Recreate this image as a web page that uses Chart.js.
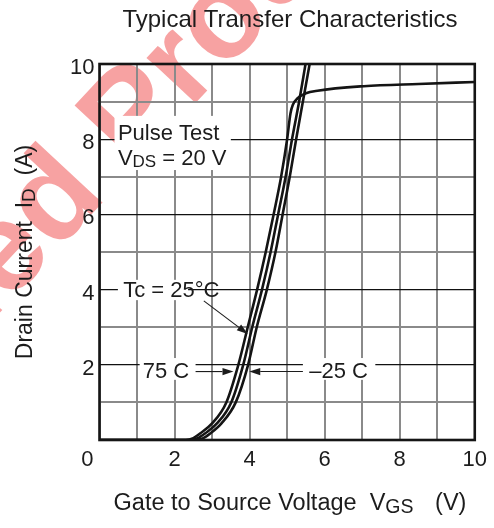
<!DOCTYPE html>
<html><head><meta charset="utf-8">
<script src="https://cdn.jsdelivr.net/npm/chart.js@4/dist/chart.umd.min.js"></script>
<style>html,body{margin:0;padding:0;background:#fff;}canvas{display:block}</style>
</head><body>
<canvas id="c" width="494" height="528"></canvas>
<script>
// ---- data ----
const chartTitle = 'Typical Transfer Characteristics';
const xTickLabels = ['0', '2', '4', '6', '8', '10'];
const yTickLabels = ['2', '4', '6', '8', '10'];
const seriesNames = ['75 C', 'Tc = 25°C', '–25 C'];

const vgs75 = [0, 2.3, 2.5, 2.69, 3.0, 3.38, 3.70, 3.95, 4.20, 4.43, 4.64, 4.84, 5.00, 5.09, 5.15, 5.28, 5.50, 5.81, 7.04, 8.5, 10];
const id75  = [0, 0, 0.05, 0.18, 0.44, 1.0, 2.0, 3.0, 4.0, 5.0, 6.0, 7.0, 8.0, 8.69, 8.91, 9.09, 9.22, 9.29, 9.41, 9.47, 9.52];
const vgs25 = [0, 2.4, 2.6, 2.82, 3.13, 3.51, 3.83, 4.07, 4.33, 4.56, 4.76, 4.96, 5.13, 5.32, 5.49];
const id25  = [0, 0, 0.04, 0.18, 0.44, 1.0, 2.0, 3.0, 4.0, 5.0, 6.0, 7.0, 8.0, 9.0, 10.0];
const vgsM25 = [0, 2.55, 2.75, 2.96, 3.25, 3.63, 3.96, 4.19, 4.46, 4.69, 4.88, 5.07, 5.24, 5.42, 5.60];
const idM25  = [0, 0, 0.04, 0.18, 0.44, 1.0, 2.0, 3.0, 4.0, 5.0, 6.0, 7.0, 8.0, 9.0, 10.0];

const FONT = '"Liberation Sans", Arial, Helvetica, sans-serif';
const INK = '#1c1c1c';
const zip = (xs, ys) => xs.map((x, i) => ({x, y: ys[i]}));

function drawRich(ctx, pieces, x, y) {
  let total = 0;
  pieces.forEach(p => { ctx.font = p.size + 'px ' + FONT; total += ctx.measureText(p.t).width + (p.gap || 0); });
  let cx = x - total / 2;
  ctx.textAlign = 'left'; ctx.textBaseline = 'alphabetic';
  pieces.forEach(p => {
    ctx.font = p.size + 'px ' + FONT;
    ctx.fillText(p.t, cx, y + (p.dy || 0));
    cx += ctx.measureText(p.t).width + (p.gap || 0);
  });
}
function drawRichLeft(ctx, pieces, x, y) {
  let cx = x;
  ctx.textAlign = 'left'; ctx.textBaseline = 'alphabetic';
  pieces.forEach(p => {
    ctx.font = p.size + 'px ' + FONT;
    ctx.fillText(p.t, cx, y + (p.dy || 0));
    cx += ctx.measureText(p.t).width + (p.gap || 0);
  });
}
function arrow(ctx, x0, y0, x1, y1) {
  const a = Math.atan2(y1 - y0, x1 - x0), L = 11, W = 3.6;
  const bx = x1 - L * Math.cos(a), by = y1 - L * Math.sin(a);
  ctx.beginPath(); ctx.moveTo(x0, y0); ctx.lineTo(bx, by);
  ctx.lineWidth = 1.1; ctx.strokeStyle = INK; ctx.stroke();
  ctx.beginPath(); ctx.moveTo(x1, y1);
  ctx.lineTo(bx + W * Math.sin(a), by - W * Math.cos(a));
  ctx.lineTo(bx - W * Math.sin(a), by + W * Math.cos(a));
  ctx.closePath(); ctx.fillStyle = INK; ctx.fill();
}

const decor = {
  id: 'decor',
  beforeDraw(chart) {
    const ctx = chart.ctx;
    ctx.save();
    ctx.fillStyle = '#fff'; ctx.fillRect(0, 0, chart.width, chart.height);
    ctx.translate(8, 304); ctx.rotate(-47 * Math.PI / 180);
    ctx.font = 'bold 126px ' + FONT;
    ctx.fillStyle = 'rgba(240,70,70,0.5)';
    ctx.textBaseline = 'alphabetic'; ctx.textAlign = 'left';
    const pre = ctx.measureText('Discontinu').width;
    ctx.fillText('Discontinued Product', -pre, 0);
    ctx.restore();
  },
  afterDraw(chart) {
    const ctx = chart.ctx, xs = chart.scales.x, ys = chart.scales.y, a = chart.chartArea;
    const px = v => xs.getPixelForValue(v), py = v => ys.getPixelForValue(v);
    ctx.save();
    // white label boxes
    ctx.fillStyle = '#fff';
    const box = (x0, y0, x1, y1) => ctx.fillRect(px(x0), py(y0), px(x1) - px(x0), py(y1) - py(y0));
    box(0.40, 8.62, 3.50, 7.18);
    box(0.49, 4.26, 2.36, 3.72);
    box(1.07, 2.18, 2.56, 1.60);
    box(5.42, 2.18, 7.35, 1.60);
    // texts
    ctx.fillStyle = INK;
    drawRichLeft(ctx, [{t: 'Pulse Test', size: 22}], px(0.49), py(7.98));
    drawRichLeft(ctx, [{t: 'V', size: 22}, {t: 'DS', size: 17, dy: 2}, {t: ' = 20 V', size: 22}], px(0.49), py(7.31));
    drawRichLeft(ctx, [{t: seriesNames[1], size: 22}], px(0.63), py(3.81));
    drawRichLeft(ctx, [{t: seriesNames[0], size: 22}], px(1.15), py(1.64));
    drawRichLeft(ctx, [{t: seriesNames[2], size: 22}], px(5.59), py(1.64));
    // arrows
    arrow(ctx, px(2.78), py(3.70), px(3.95), py(2.82));
    arrow(ctx, px(2.56), py(1.82), px(3.57), py(1.82));
    arrow(ctx, px(5.42), py(1.82), px(3.99), py(1.82));
    // frame
    ctx.lineWidth = 2.6; ctx.strokeStyle = '#151515';
    ctx.strokeRect(a.left, a.top, a.right - a.left, a.bottom - a.top);
    // title
    ctx.fillStyle = INK;
    ctx.font = '24px ' + FONT; ctx.textAlign = 'center'; ctx.textBaseline = 'alphabetic';
    ctx.fillText(chartTitle, 290, 27);
    // x title
    drawRich(ctx, [{t: 'Gate to Source Voltage  V', size: 23.5}, {t: 'GS', size: 19.5, dy: 3, gap: 2}, {t: '   (V)', size: 23.5}], 290, 510);
    // y title
    ctx.translate(32, 252); ctx.rotate(-Math.PI / 2);
    drawRich(ctx, [{t: 'Drain Current  I', size: 23}, {t: 'D', size: 19, dy: 3}, {t: '  (A)', size: 23}], 0, 0);
    ctx.restore();
  }
};

new Chart(document.getElementById('c'), {
  type: 'line',
  data: {
    datasets: [
      {label: seriesNames[0], data: zip(vgs75, id75)},
      {label: seriesNames[1], data: zip(vgs25, id25)},
      {label: seriesNames[2], data: zip(vgsM25, idM25)}
    ].map(d => Object.assign(d, {borderColor: '#141414', borderWidth: 2.6, pointRadius: 0, fill: false, cubicInterpolationMode: 'monotone'}))
  },
  options: {
    responsive: false, animation: false, devicePixelRatio: 1,
    layout: {padding: {top: 64, right: 15, bottom: 0, left: 0}, autoPadding: false},
    plugins: {legend: {display: false}, title: {display: false}, tooltip: {enabled: false}},
    scales: {
      x: {
        type: 'linear', min: 0, max: 10,
        afterFit: s => { s.height = 88; },
        border: {display: false},
        grid: {color: '#8a8a8a', lineWidth: 2, drawTicks: false},
        ticks: {
          stepSize: 1, autoSkip: false, maxRotation: 0, padding: 7, color: INK,
          font: {family: FONT, size: 22},
          callback: v => { const s = String(v); if (!xTickLabels.includes(s)) return ''; return v === 0 ? s + '    ' : s; }
        }
      },
      y: {
        type: 'linear', min: 0, max: 10,
        afterFit: s => { s.width = 99.5; },
        border: {display: false},
        grid: {
          drawTicks: false,
          color: c => (c.tick && c.tick.value % 2 === 0) ? '#111' : '#8a8a8a',
          lineWidth: c => (c.tick && c.tick.value % 2 === 0) ? 1.2 : 2
        },
        ticks: {
          stepSize: 1, autoSkip: false, padding: 5, color: INK, labelOffset: 4,
          font: {family: FONT, size: 22},
          callback: v => yTickLabels.includes(String(v)) ? String(v) : ''
        }
      }
    }
  },
  plugins: [decor]
});
</script>
</body></html>
